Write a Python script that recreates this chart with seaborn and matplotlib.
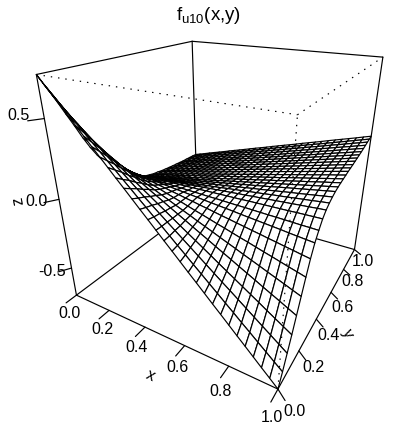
import matplotlib
matplotlib.use("Agg")
import matplotlib.pyplot as plt
import numpy as np
import seaborn as sns

sns.set_theme(style="white")
plt.rcParams["font.family"] = ["Liberation Sans", "DejaVu Sans"]
plt.rcParams["mathtext.default"] = "regular"

W, H = 419, 426
x_grid = np.linspace(0, 1, 31)
y_grid = np.linspace(0, 1, 31)
z_rows = [
    [.740,.691,.643,.594,.545,.497,.448,.399,.351,.302,.253,.205,.156,.107,.059,.010,-.039,-.087,-.136,-.185,-.233,-.282,-.331,-.379,-.428,-.477,-.525,-.574,-.623,-.671,-.720],
    [.660,.617,.573,.530,.486,.443,.399,.356,.312,.269,.225,.182,.138,.095,.051,.008,-.036,-.080,-.123,-.167,-.210,-.254,-.297,-.341,-.384,-.428,-.471,-.515,-.558,-.602,-.645],
    [.578,.540,.502,.464,.426,.388,.350,.312,.275,.237,.199,.161,.123,.085,.047,.009,-.029,-.067,-.105,-.143,-.181,-.219,-.257,-.294,-.332,-.370,-.408,-.446,-.484,-.522,-.560],
    [.490,.458,.426,.393,.361,.329,.297,.265,.233,.200,.168,.136,.104,.072,.040,.008,-.025,-.057,-.089,-.121,-.153,-.186,-.218,-.250,-.282,-.314,-.346,-.379,-.411,-.443,-.475],
    [.405,.379,.352,.326,.300,.273,.247,.221,.194,.168,.142,.115,.089,.063,.036,.010,-.016,-.043,-.069,-.095,-.122,-.148,-.174,-.201,-.227,-.253,-.280,-.306,-.332,-.359,-.385],
    [.315,.295,.274,.254,.234,.213,.193,.173,.152,.132,.112,.091,.071,.051,.030,.010,-.010,-.031,-.051,-.071,-.092,-.112,-.132,-.153,-.173,-.193,-.214,-.234,-.254,-.275,-.295],
    [.235,.220,.206,.191,.176,.162,.147,.132,.118,.103,.088,.074,.059,.044,.030,.015,.000,-.014,-.029,-.044,-.058,-.073,-.088,-.102,-.117,-.132,-.146,-.161,-.176,-.190,-.205],
    [.165,.156,.146,.137,.127,.118,.108,.099,.089,.080,.070,.061,.051,.042,.032,.023,.013,.004,-.006,-.016,-.025,-.035,-.044,-.054,-.063,-.073,-.082,-.092,-.101,-.111,-.120],
    [.105,.100,.095,.089,.084,.079,.074,.069,.064,.058,.053,.048,.043,.038,.033,.028,.022,.017,.012,.007,.002,-.004,-.009,-.014,-.019,-.024,-.029,-.035,-.040,-.045,-.050],
    [.052,.050,.049,.047,.045,.043,.042,.040,.038,.036,.035,.033,.031,.029,.028,.026,.024,.023,.021,.019,.017,.016,.014,.012,.010,.009,.007,.005,.003,.002,.000],
    [.010,.011,.012,.014,.015,.016,.017,.018,.019,.021,.022,.023,.024,.025,.026,.028,.029,.030,.031,.032,.033,.035,.036,.037,.038,.039,.040,.042,.043,.044,.045],
    [-.030,-.027,-.023,-.020,-.016,-.013,-.009,-.006,-.002,.002,.005,.009,.012,.016,.019,.023,.026,.030,.033,.037,.040,.044,.047,.051,.054,.058,.061,.065,.068,.072,.075],
    [-.065,-.060,-.054,-.049,-.044,-.038,-.033,-.028,-.022,-.017,-.012,-.006,-.001,.004,.010,.015,.020,.026,.031,.036,.042,.047,.052,.058,.063,.068,.074,.079,.084,.090,.095],
    [-.095,-.088,-.081,-.075,-.068,-.061,-.054,-.047,-.040,-.034,-.027,-.020,-.013,-.006,.001,.008,.014,.021,.028,.035,.042,.048,.055,.062,.069,.076,.082,.089,.096,.103,.110],
    [-.120,-.112,-.104,-.096,-.088,-.080,-.072,-.064,-.055,-.047,-.039,-.031,-.023,-.015,-.007,.001,.009,.017,.025,.033,.041,.049,.057,.066,.074,.082,.090,.098,.106,.114,.122],
    [-.140,-.131,-.122,-.113,-.104,-.095,-.086,-.077,-.068,-.059,-.050,-.041,-.032,-.023,-.014,-.005,.004,.013,.022,.031,.040,.049,.058,.067,.076,.085,.094,.103,.112,.121,.130],
    [-.155,-.145,-.136,-.126,-.116,-.107,-.097,-.087,-.077,-.068,-.058,-.048,-.039,-.029,-.019,-.010,.000,.010,.020,.029,.039,.049,.058,.068,.078,.088,.097,.107,.117,.126,.136],
    [-.165,-.155,-.145,-.134,-.124,-.114,-.104,-.094,-.083,-.073,-.063,-.053,-.043,-.032,-.022,-.012,-.002,.008,.019,.029,.039,.049,.059,.070,.080,.090,.100,.110,.121,.131,.141],
    [-.175,-.164,-.154,-.143,-.132,-.122,-.111,-.100,-.089,-.079,-.068,-.057,-.047,-.036,-.025,-.015,-.004,.007,.018,.028,.039,.050,.060,.071,.082,.093,.103,.114,.125,.135,.146],
    [-.180,-.169,-.158,-.147,-.136,-.125,-.114,-.103,-.092,-.081,-.070,-.059,-.048,-.037,-.026,-.014,-.003,.008,.019,.030,.041,.052,.063,.074,.085,.096,.107,.118,.129,.140,.151],
    [-.187,-.176,-.164,-.153,-.141,-.130,-.119,-.107,-.096,-.084,-.073,-.062,-.050,-.039,-.027,-.016,-.005,.007,.018,.030,.041,.052,.064,.075,.087,.098,.109,.121,.132,.144,.155],
    [-.192,-.180,-.169,-.157,-.145,-.134,-.122,-.110,-.098,-.087,-.075,-.063,-.052,-.040,-.028,-.017,-.005,.007,.019,.030,.042,.054,.065,.077,.089,.101,.112,.124,.136,.147,.159],
    [-.196,-.184,-.172,-.160,-.148,-.136,-.124,-.112,-.100,-.088,-.076,-.064,-.052,-.040,-.028,-.016,-.004,.008,.020,.032,.044,.056,.068,.080,.092,.104,.116,.128,.140,.152,.164],
    [-.200,-.188,-.175,-.163,-.151,-.139,-.126,-.114,-.102,-.090,-.077,-.065,-.053,-.041,-.028,-.016,-.004,.009,.021,.033,.045,.058,.070,.082,.094,.107,.119,.131,.143,.156,.168],
    [-.203,-.190,-.178,-.165,-.153,-.140,-.128,-.115,-.103,-.090,-.078,-.065,-.053,-.040,-.028,-.015,-.003,.010,.022,.035,.048,.060,.073,.085,.098,.110,.123,.135,.148,.160,.173],
    [-.206,-.193,-.180,-.168,-.155,-.142,-.129,-.116,-.104,-.091,-.078,-.065,-.052,-.040,-.027,-.014,-.001,.012,.024,.037,.050,.063,.076,.088,.101,.114,.127,.140,.152,.165,.178],
    [-.210,-.197,-.184,-.171,-.157,-.144,-.131,-.118,-.105,-.092,-.079,-.066,-.052,-.039,-.026,-.013,.000,.013,.026,.040,.053,.066,.079,.092,.105,.118,.131,.145,.158,.171,.184],
    [-.211,-.198,-.184,-.171,-.158,-.144,-.131,-.117,-.104,-.091,-.077,-.064,-.051,-.037,-.024,-.010,.003,.016,.030,.043,.056,.070,.083,.096,.110,.123,.137,.150,.163,.177,.190],
    [-.213,-.199,-.186,-.172,-.158,-.145,-.131,-.117,-.104,-.090,-.076,-.063,-.049,-.035,-.022,-.008,.006,.019,.033,.047,.060,.074,.088,.101,.115,.129,.142,.156,.170,.183,.197],
    [-.215,-.201,-.187,-.173,-.159,-.145,-.131,-.117,-.104,-.090,-.076,-.062,-.048,-.034,-.020,-.006,.008,.022,.036,.050,.064,.078,.092,.105,.119,.133,.147,.161,.175,.189,.203],
    [-.218,-.204,-.190,-.175,-.161,-.147,-.133,-.118,-.104,-.090,-.076,-.061,-.047,-.033,-.019,-.004,.010,.024,.038,.052,.067,.081,.095,.109,.124,.138,.152,.166,.180,.195,.209],
]
x_ticks = [0.0, 0.2, 0.4, 0.6, 0.8, 1.0]
y_ticks = [0.0, 0.2, 0.4, 0.6, 0.8, 1.0]
z_ticks = [-0.5, 0.0, 0.5]
z_lim = (-0.72, 0.74)

fig = plt.figure(figsize=(W / 100, H / 100), dpi=100)
side = 377
ax = fig.add_axes([(221 - side / 2) / W, (242 - side / 2) / H, side / W, side / H], projection="3d")
ax.set_proj_type("persp", focal_length=0.215)
ax.view_init(elev=25, azim=-60)
ax.set_box_aspect((1, 1, 1))
ax.set_axis_off()
ax.patch.set_alpha(0)
ax.computed_zorder = False
ax.set_xlim(0, 1, view_margin=0)
ax.set_ylim(0, 1, view_margin=0)
ax.set_zlim(*z_lim, view_margin=0)

lw = 0.85
z0, z1 = z_lim
def edge(a, b, zo, **kw):
    ax.plot([a[0], b[0]], [a[1], b[1]], [a[2], b[2]], color="black", lw=lw, zorder=zo, clip_on=False, **kw)

# back edges
edge((0, 0, z0), (0, 1, z0), 1)
edge((0, 1, z0), (1, 1, z0), 1)
edge((0, 1, z0), (0, 1, z1), 1)
edge((0, 0, z0), (0, 0, z1), 1)
edge((1, 1, z0), (1, 1, z1), 1)
edge((0, 0, z1), (0, 1, z1), 1)
edge((0, 1, z1), (1, 1, z1), 1)

X, Y = np.meshgrid(x_grid, y_grid)
surf = ax.plot_surface(X, Y, np.array(z_rows), rstride=1, cstride=1, color="white", shade=False,
                       edgecolor="black", linewidth=lw, antialiased=True, zorder=2)
surf.set_clip_on(False)

# front dotted
dots = (0, (1.2, 5))
edge((1, 0, z0), (1, 0, z1), 3, ls=dots)
edge((0, 0, z1), (1, 0, z1), 3, ls=dots)
edge((1, 0, z1), (1, 1, z1), 3, ls=dots)
# axes
edge((0, 0, z0), (1, 0, z0), 4)
edge((1, 0, z0), (1, 1, z0), 4)
for t in x_ticks:
    edge((t, 0, z0), (t, -0.06, z0), 4)
for t in y_ticks:
    edge((1, t, z0), (1.04, t - 0.03, z0), 4)
for t in z_ticks:
    edge((0, 0, t), (-0.03, -0.05, t), 4)

def label(s, px, py, rot=0, size=11.5):
    fig.text(px / W, 1 - py / H, s, ha="center", va="center", rotation=rot, fontsize=size, color="black")

x_label_pos = [(69, 313), (102, 329), (137, 348), (177, 368), (221, 391), (272, 418)]
y_label_pos = [(294, 412), (313, 368), (329, 336), (342, 307), (353, 282), (363, 261)]
z_label_pos = [(52, 272), (36, 201), (19, 116)]
for t, p in zip(x_ticks, x_label_pos):
    label(f"{t:.1f}", *p)
for t, p in zip(y_ticks, y_label_pos):
    label(f"{t:.1f}", *p)
for t, p in zip(z_ticks, z_label_pos):
    label(f"{t:.1f}", *p)
label("x", 150, 376, rot=-25)
label("y", 347, 333, rot=-65)
label("z", 18, 201, rot=100)
label(r"$f_{u10}$(x,y)", 209, 15, size=13.5)

fig.savefig("out.png", dpi=100)
